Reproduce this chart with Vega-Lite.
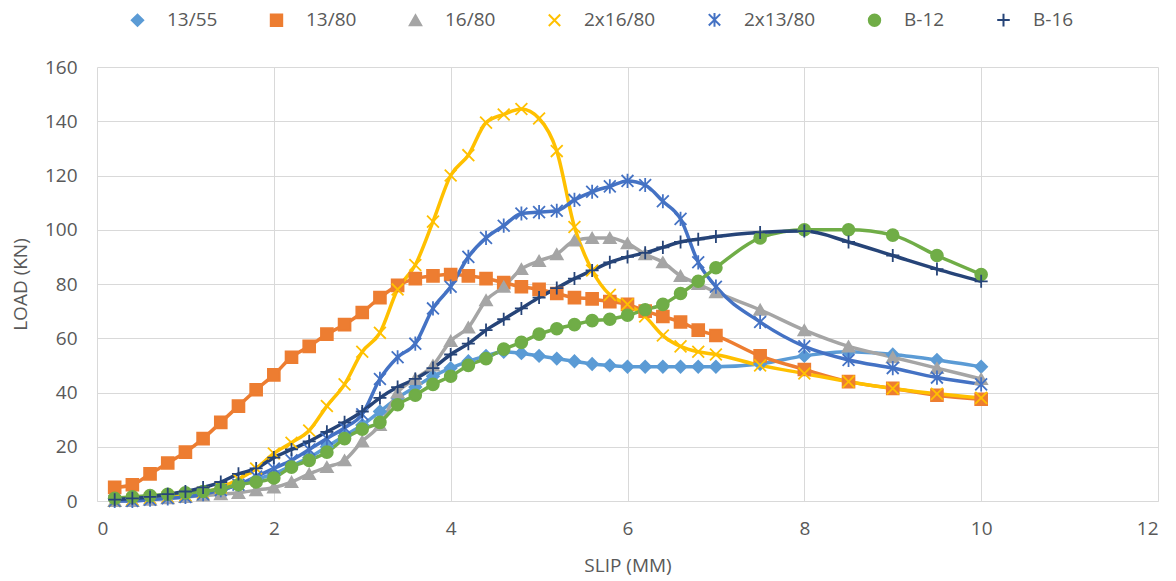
{
  "$schema": "https://vega.github.io/schema/vega-lite/v6.json",
  "width": 1061,
  "height": 434,
  "autosize": {"type": "none"},
  "padding": {"left": 97, "top": 67, "right": 18, "bottom": 80},
  "background": "white",
  "config": {
    "view": {"stroke": null},
    "font": "Open Sans",
    "axis": {"labelFont": "Open Sans", "titleFont": "Open Sans", "labelColor": "#595959", "titleColor": "#595959", "gridColor": "#D9D9D9", "gridWidth": 1, "ticks": false, "domain": false, "labelFontSize": 19, "titleFontSize": 19, "titleFontWeight": "normal"},
    "legend": {"labelFont": "Open Sans", "labelFontSize": 19, "labelColor": "#595959"}
  },
  "data": {"values": [
    {"s":"13/55","x":0.2,"y":1},{"s":"13/55","x":0.4,"y":1},{"s":"13/55","x":0.6,"y":1.5},{"s":"13/55","x":0.8,"y":2},{"s":"13/55","x":1,"y":2.5},{"s":"13/55","x":1.2,"y":3},{"s":"13/55","x":1.4,"y":4},{"s":"13/55","x":1.6,"y":6},{"s":"13/55","x":1.8,"y":8},{"s":"13/55","x":2,"y":10},
    {"s":"13/55","x":2.2,"y":13},{"s":"13/55","x":2.4,"y":16},{"s":"13/55","x":2.6,"y":20},{"s":"13/55","x":2.8,"y":24},{"s":"13/55","x":3,"y":28},{"s":"13/55","x":3.2,"y":33},{"s":"13/55","x":3.4,"y":38},{"s":"13/55","x":3.6,"y":42},{"s":"13/55","x":3.8,"y":46},{"s":"13/55","x":4,"y":49},
    {"s":"13/55","x":4.2,"y":51.5},{"s":"13/55","x":4.4,"y":53.5},{"s":"13/55","x":4.6,"y":55},{"s":"13/55","x":4.8,"y":54.5},{"s":"13/55","x":5,"y":53.5},{"s":"13/55","x":5.2,"y":52.5},{"s":"13/55","x":5.4,"y":51.5},{"s":"13/55","x":5.6,"y":50.5},{"s":"13/55","x":5.8,"y":50},{"s":"13/55","x":6,"y":49.5},
    {"s":"13/55","x":6.2,"y":49.5},{"s":"13/55","x":6.4,"y":49.5},{"s":"13/55","x":6.6,"y":49.5},{"s":"13/55","x":6.8,"y":49.5},{"s":"13/55","x":7,"y":49.5},{"s":"13/55","x":7.5,"y":50.5},{"s":"13/55","x":8,"y":53.5},{"s":"13/55","x":8.5,"y":55},{"s":"13/55","x":9,"y":54},{"s":"13/55","x":9.5,"y":52},{"s":"13/55","x":10,"y":49.5},

    {"s":"13/80","x":0.2,"y":5},{"s":"13/80","x":0.4,"y":6},{"s":"13/80","x":0.6,"y":10},{"s":"13/80","x":0.8,"y":14},{"s":"13/80","x":1,"y":18},{"s":"13/80","x":1.2,"y":23},{"s":"13/80","x":1.4,"y":29},{"s":"13/80","x":1.6,"y":35},{"s":"13/80","x":1.8,"y":41},{"s":"13/80","x":2,"y":46.5},
    {"s":"13/80","x":2.2,"y":53},{"s":"13/80","x":2.4,"y":57},{"s":"13/80","x":2.6,"y":61.5},{"s":"13/80","x":2.8,"y":65},{"s":"13/80","x":3,"y":69.5},{"s":"13/80","x":3.2,"y":75},{"s":"13/80","x":3.4,"y":79.5},{"s":"13/80","x":3.6,"y":82},{"s":"13/80","x":3.8,"y":83},{"s":"13/80","x":4,"y":83.5},
    {"s":"13/80","x":4.2,"y":83},{"s":"13/80","x":4.4,"y":82},{"s":"13/80","x":4.6,"y":80.5},{"s":"13/80","x":4.8,"y":79},{"s":"13/80","x":5,"y":78},{"s":"13/80","x":5.2,"y":76.5},{"s":"13/80","x":5.4,"y":75},{"s":"13/80","x":5.6,"y":74.5},{"s":"13/80","x":5.8,"y":73.5},{"s":"13/80","x":6,"y":72.5},
    {"s":"13/80","x":6.2,"y":70},{"s":"13/80","x":6.4,"y":68},{"s":"13/80","x":6.6,"y":66},{"s":"13/80","x":6.8,"y":63},{"s":"13/80","x":7,"y":61},{"s":"13/80","x":7.5,"y":53.5},{"s":"13/80","x":8,"y":48.5},{"s":"13/80","x":8.5,"y":44},{"s":"13/80","x":9,"y":41.5},{"s":"13/80","x":9.5,"y":39},{"s":"13/80","x":10,"y":37.5},

    {"s":"16/80","x":0.2,"y":0},{"s":"16/80","x":0.4,"y":0},{"s":"16/80","x":0.6,"y":0.5},{"s":"16/80","x":0.8,"y":1},{"s":"16/80","x":1,"y":1.5},{"s":"16/80","x":1.2,"y":2},{"s":"16/80","x":1.4,"y":2.5},{"s":"16/80","x":1.6,"y":3},{"s":"16/80","x":1.8,"y":4},{"s":"16/80","x":2,"y":5},
    {"s":"16/80","x":2.2,"y":7},{"s":"16/80","x":2.4,"y":10},{"s":"16/80","x":2.6,"y":12.5},{"s":"16/80","x":2.8,"y":15},{"s":"16/80","x":3,"y":22},{"s":"16/80","x":3.2,"y":28},{"s":"16/80","x":3.4,"y":40},{"s":"16/80","x":3.6,"y":45},{"s":"16/80","x":3.8,"y":50},{"s":"16/80","x":4,"y":59},
    {"s":"16/80","x":4.2,"y":64},{"s":"16/80","x":4.4,"y":74},{"s":"16/80","x":4.6,"y":79},{"s":"16/80","x":4.8,"y":85.5},{"s":"16/80","x":5,"y":88.5},{"s":"16/80","x":5.2,"y":91},{"s":"16/80","x":5.4,"y":96},{"s":"16/80","x":5.6,"y":97},{"s":"16/80","x":5.8,"y":97},{"s":"16/80","x":6,"y":95},
    {"s":"16/80","x":6.2,"y":91},{"s":"16/80","x":6.4,"y":88},{"s":"16/80","x":6.6,"y":83},{"s":"16/80","x":6.8,"y":80},{"s":"16/80","x":7,"y":77},{"s":"16/80","x":7.5,"y":70.5},{"s":"16/80","x":8,"y":63},{"s":"16/80","x":8.5,"y":57},{"s":"16/80","x":9,"y":53},{"s":"16/80","x":9.5,"y":49},{"s":"16/80","x":10,"y":45},

    {"s":"2x16/80","x":0.2,"y":0},{"s":"2x16/80","x":0.4,"y":0.5},{"s":"2x16/80","x":0.6,"y":1},{"s":"2x16/80","x":0.8,"y":1.5},{"s":"2x16/80","x":1,"y":2},{"s":"2x16/80","x":1.2,"y":3},{"s":"2x16/80","x":1.4,"y":5},{"s":"2x16/80","x":1.6,"y":8},{"s":"2x16/80","x":1.8,"y":12},{"s":"2x16/80","x":2,"y":17.5},
    {"s":"2x16/80","x":2.2,"y":21.5},{"s":"2x16/80","x":2.4,"y":26},{"s":"2x16/80","x":2.6,"y":35},{"s":"2x16/80","x":2.8,"y":43},{"s":"2x16/80","x":3,"y":55},{"s":"2x16/80","x":3.2,"y":62},{"s":"2x16/80","x":3.4,"y":78},{"s":"2x16/80","x":3.6,"y":87},{"s":"2x16/80","x":3.8,"y":103},{"s":"2x16/80","x":4,"y":120},
    {"s":"2x16/80","x":4.2,"y":127.5},{"s":"2x16/80","x":4.4,"y":139.5},{"s":"2x16/80","x":4.6,"y":142.5},{"s":"2x16/80","x":4.8,"y":144.5},{"s":"2x16/80","x":5,"y":141},{"s":"2x16/80","x":5.2,"y":129},{"s":"2x16/80","x":5.4,"y":101},{"s":"2x16/80","x":5.6,"y":85},{"s":"2x16/80","x":5.8,"y":76},{"s":"2x16/80","x":6,"y":72.5},
    {"s":"2x16/80","x":6.2,"y":68},{"s":"2x16/80","x":6.4,"y":61},{"s":"2x16/80","x":6.6,"y":57},{"s":"2x16/80","x":6.8,"y":55},{"s":"2x16/80","x":7,"y":54},{"s":"2x16/80","x":7.5,"y":50},{"s":"2x16/80","x":8,"y":47},{"s":"2x16/80","x":8.5,"y":44},{"s":"2x16/80","x":9,"y":41.5},{"s":"2x16/80","x":9.5,"y":39.5},{"s":"2x16/80","x":10,"y":38},

    {"s":"2x13/80","x":0.2,"y":0},{"s":"2x13/80","x":0.4,"y":0},{"s":"2x13/80","x":0.6,"y":0.5},{"s":"2x13/80","x":0.8,"y":1},{"s":"2x13/80","x":1,"y":1.5},{"s":"2x13/80","x":1.2,"y":2.5},{"s":"2x13/80","x":1.4,"y":4},{"s":"2x13/80","x":1.6,"y":6},{"s":"2x13/80","x":1.8,"y":9},{"s":"2x13/80","x":2,"y":12},
    {"s":"2x13/80","x":2.2,"y":15},{"s":"2x13/80","x":2.4,"y":19},{"s":"2x13/80","x":2.6,"y":23},{"s":"2x13/80","x":2.8,"y":27},{"s":"2x13/80","x":3,"y":32},{"s":"2x13/80","x":3.2,"y":45},{"s":"2x13/80","x":3.4,"y":53},{"s":"2x13/80","x":3.6,"y":58},{"s":"2x13/80","x":3.8,"y":71},{"s":"2x13/80","x":4,"y":79},
    {"s":"2x13/80","x":4.2,"y":90},{"s":"2x13/80","x":4.4,"y":97},{"s":"2x13/80","x":4.6,"y":101.5},{"s":"2x13/80","x":4.8,"y":106},{"s":"2x13/80","x":5,"y":106.5},{"s":"2x13/80","x":5.2,"y":107},{"s":"2x13/80","x":5.4,"y":111},{"s":"2x13/80","x":5.6,"y":114},{"s":"2x13/80","x":5.8,"y":116},{"s":"2x13/80","x":6,"y":118},
    {"s":"2x13/80","x":6.2,"y":116.5},{"s":"2x13/80","x":6.4,"y":110.5},{"s":"2x13/80","x":6.6,"y":104},{"s":"2x13/80","x":6.8,"y":88},{"s":"2x13/80","x":7,"y":79},{"s":"2x13/80","x":7.5,"y":66},{"s":"2x13/80","x":8,"y":57},{"s":"2x13/80","x":8.5,"y":52},{"s":"2x13/80","x":9,"y":49},{"s":"2x13/80","x":9.5,"y":45.5},{"s":"2x13/80","x":10,"y":43},

    {"s":"B-12","x":0.2,"y":1},{"s":"B-12","x":0.4,"y":1.5},{"s":"B-12","x":0.6,"y":2},{"s":"B-12","x":0.8,"y":2.5},{"s":"B-12","x":1,"y":3},{"s":"B-12","x":1.2,"y":3.5},{"s":"B-12","x":1.4,"y":4.5},{"s":"B-12","x":1.6,"y":6},{"s":"B-12","x":1.8,"y":7},{"s":"B-12","x":2,"y":8.5},
    {"s":"B-12","x":2.2,"y":12.5},{"s":"B-12","x":2.4,"y":15},{"s":"B-12","x":2.6,"y":18},{"s":"B-12","x":2.8,"y":23},{"s":"B-12","x":3,"y":26.5},{"s":"B-12","x":3.2,"y":29},{"s":"B-12","x":3.4,"y":35.5},{"s":"B-12","x":3.6,"y":39},{"s":"B-12","x":3.8,"y":43},{"s":"B-12","x":4,"y":46},
    {"s":"B-12","x":4.2,"y":50},{"s":"B-12","x":4.4,"y":52.5},{"s":"B-12","x":4.6,"y":56},{"s":"B-12","x":4.8,"y":58.5},{"s":"B-12","x":5,"y":61.5},{"s":"B-12","x":5.2,"y":63.5},{"s":"B-12","x":5.4,"y":65},{"s":"B-12","x":5.6,"y":66.5},{"s":"B-12","x":5.8,"y":67},{"s":"B-12","x":6,"y":68.5},
    {"s":"B-12","x":6.2,"y":70.5},{"s":"B-12","x":6.4,"y":72.5},{"s":"B-12","x":6.6,"y":76.5},{"s":"B-12","x":6.8,"y":81},{"s":"B-12","x":7,"y":86},{"s":"B-12","x":7.5,"y":97},{"s":"B-12","x":8,"y":100},{"s":"B-12","x":8.5,"y":100},{"s":"B-12","x":9,"y":98},{"s":"B-12","x":9.5,"y":90.5},{"s":"B-12","x":10,"y":83.5},

    {"s":"B-16","x":0.2,"y":0.5},{"s":"B-16","x":0.4,"y":1},{"s":"B-16","x":0.6,"y":1.5},{"s":"B-16","x":0.8,"y":2.5},{"s":"B-16","x":1,"y":3.5},{"s":"B-16","x":1.2,"y":5},{"s":"B-16","x":1.4,"y":7},{"s":"B-16","x":1.6,"y":10},{"s":"B-16","x":1.8,"y":12},{"s":"B-16","x":2,"y":16},
    {"s":"B-16","x":2.2,"y":19},{"s":"B-16","x":2.4,"y":22},{"s":"B-16","x":2.6,"y":25.5},{"s":"B-16","x":2.8,"y":29},{"s":"B-16","x":3,"y":33},{"s":"B-16","x":3.2,"y":38},{"s":"B-16","x":3.4,"y":42},{"s":"B-16","x":3.6,"y":45},{"s":"B-16","x":3.8,"y":49},{"s":"B-16","x":4,"y":54},
    {"s":"B-16","x":4.2,"y":58},{"s":"B-16","x":4.4,"y":63},{"s":"B-16","x":4.6,"y":67},{"s":"B-16","x":4.8,"y":71},{"s":"B-16","x":5,"y":75},{"s":"B-16","x":5.2,"y":78.5},{"s":"B-16","x":5.4,"y":82},{"s":"B-16","x":5.6,"y":85},{"s":"B-16","x":5.8,"y":88},{"s":"B-16","x":6,"y":90},
    {"s":"B-16","x":6.2,"y":91.5},{"s":"B-16","x":6.4,"y":93.5},{"s":"B-16","x":6.6,"y":95.5},{"s":"B-16","x":6.8,"y":96.5},{"s":"B-16","x":7,"y":97.5},{"s":"B-16","x":7.5,"y":99},{"s":"B-16","x":8,"y":99.5},{"s":"B-16","x":8.5,"y":95.5},{"s":"B-16","x":9,"y":90.5},{"s":"B-16","x":9.5,"y":85.5},{"s":"B-16","x":10,"y":81}
  ]},
  "encoding": {
    "x": {"field": "x", "type": "quantitative", "scale": {"domain": [0, 12], "nice": false, "zero": false},
      "axis": {"values": [0, 2, 4, 6, 8, 10, 12], "title": "SLIP (MM)", "labelPadding": 18, "titlePadding": 18, "domain": true, "domainColor": "#D9D9D9"}},
    "y": {"field": "y", "type": "quantitative", "scale": {"domain": [0, 160], "nice": false},
      "axis": {"values": [0, 20, 40, 60, 80, 100, 120, 140, 160], "title": "LOAD (KN)", "labelPadding": 20, "titlePadding": 14}}
  },
  "layer": [
    {
      "mark": {"type": "line", "strokeWidth": 3.5, "interpolate": "monotone"},
      "encoding": {
        "color": {"field": "s", "type": "nominal",
          "scale": {"domain": ["13/55", "13/80", "16/80", "2x16/80", "2x13/80", "B-12", "B-16"], "range": ["#5B9BD5", "#ED7D31", "#A5A5A5", "#FFC000", "#4472C4", "#70AD47", "#264478"]},
          "legend": {"orient": "none", "legendX": 12, "legendY": -57, "direction": "horizontal", "columns": 7, "title": null,
            "symbolSize": 130, "symbolStrokeWidth": 2, "symbolOffset": 19, "labelOffset": 20, "columnPadding": 30}
        }
      }
    },
    {
      "mark": {"type": "point", "filled": true, "size": 140, "strokeWidth": 1.8, "opacity": 1},
      "encoding": {
        "fill": {"field": "s", "type": "nominal",
          "scale": {"domain": ["13/55", "13/80", "16/80", "2x16/80", "2x13/80", "B-12", "B-16"], "range": ["#5B9BD5", "#ED7D31", "#A5A5A5", "#FFC000", "#4472C4", "#70AD47", "#264478"]},
          "legend": null},
        "stroke": {"field": "s", "type": "nominal",
          "scale": {"domain": ["13/55", "13/80", "16/80", "2x16/80", "2x13/80", "B-12", "B-16"], "range": ["#5B9BD5", "#ED7D31", "#A5A5A5", "#FFC000", "#4472C4", "#70AD47", "#264478"]},
          "legend": null},
        "shape": {"field": "s", "type": "nominal", "legend": null,
          "scale": {"domain": ["13/55", "13/80", "16/80", "2x16/80", "2x13/80", "B-12", "B-16"],
            "range": ["diamond", "square", "triangle-up", "M-1,-1L1,1M-1,1L1,-1", "M-1,-1L1,1M-1,1L1,-1M0,-1.2L0,1.2", "circle", "M-1.1,0L1.1,0M0,-1.1L0,1.1"]}}
      }
    }
  ]
}
